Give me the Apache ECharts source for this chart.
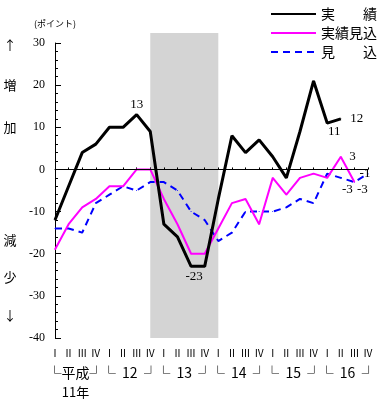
<!DOCTYPE html>
<html><head><meta charset="utf-8">
<script src="https://cdn.jsdelivr.net/npm/echarts@6/dist/echarts.min.js"></script>
<style>html,body{margin:0;padding:0;background:#fff}#c{width:386px;height:400px}</style>
</head><body><div id="c"></div>
<script>
// ---- data ----
const quarters = ['Ⅰ','Ⅱ','Ⅲ','Ⅳ','Ⅰ','Ⅱ','Ⅲ','Ⅳ','Ⅰ','Ⅱ','Ⅲ','Ⅳ','Ⅰ','Ⅱ','Ⅲ','Ⅳ','Ⅰ','Ⅱ','Ⅲ','Ⅳ','Ⅰ','Ⅱ','Ⅲ','Ⅳ'];
const yearLabels = ['└平成┘','└  12  ┘','└  13  ┘','└  14  ┘','└  15  ┘','└  16  ┘'];
const firstYearNote = '11年';
const seriesNames = ['実　　績','実績見込','見　　込'];
const jisseki       = [-12,-4,4,6,10,10,13,9,-13,-16,-23,-23,-7,8,4,7,3,-2,9,21,11,12,null,null];
const jissekiMikomi = [-19,-13,-9,-7,-4,-4,0,0,-7,-13,-20,-20,-14,-8,-7,-13,-2,-6,-2,-1,-2,3,-3,null];
const mikomi        = [-14,-14,-15,-8,-6,-4,-5,-3,-3,-5,-10,-12,-17,-15,-10,-10,-10,-9,-7,-8,-1,-2,-3,-1];
const yMin = -40, yMax = 30, yStep = 10;
const shadeFrom = 7, shadeTo = 12;   // category indices of shaded period
const sideWords = ['↑','増','加','減','少','↓'];
const unitLabel = '(ポイント)';

// ---- label placement (by index) ----
const numFont = '"Liberation Serif","DejaVu Serif",serif';
const cjkFont = '"Noto Sans CJK JP","Noto Sans",sans-serif';
const labelSpecs = [
  {6:{position:'top',distance:3}, 10:{position:'bottom',distance:3,offset:[3,0]}, 20:{position:'bottom',distance:2,offset:[7,0]}, 21:{position:'right',distance:9}},
  {21:{position:'right',distance:8}, 22:{position:'bottom',distance:1,offset:[-7,0]}},
  {22:{position:'bottom',distance:1,offset:[8,0]}, 23:{position:'inside',offset:[-3,0]}}
];
function buildData(values, spec){
  return values.map((v,i)=>{
    if (spec[i]) return {value:v, label:Object.assign({show:true, color:'#000', fontSize:13, fontFamily:numFont, formatter:'{c}'}, spec[i])};
    return v;
  });
}

const chart = echarts.init(document.getElementById('c'), null, {renderer:'canvas'});
const option = {
  animation:false,
  backgroundColor:'#fff',
  grid:{left:55, right:18, top:43, bottom:62, containLabel:false},
  legend:{
    orient:'vertical', right:4, top:2, itemWidth:45, itemHeight:12, itemGap:5,
    itemStyle:{opacity:0, borderWidth:0},
    textStyle:{fontSize:14, color:'#000', fontFamily:cjkFont, lineHeight:14},
    data:seriesNames
  },
  xAxis:{
    type:'category', data:quarters, boundaryGap:false,
    axisLine:{lineStyle:{color:'#000',width:1}},
    axisTick:{show:true, inside:true, length:2, lineStyle:{color:'#000'}},
    axisLabel:{color:'#000', fontSize:10, margin:10, interval:0, fontFamily:cjkFont},
    splitLine:{show:false}
  },
  yAxis:{
    type:'value', min:yMin, max:yMax, interval:yStep,
    axisLine:{show:true, lineStyle:{color:'#000',width:1}},
    axisTick:{show:true, inside:true, length:6, lineStyle:{color:'#000'}},
    minorTick:{show:true, splitNumber:5, length:3, lineStyle:{color:'#000'}},
    axisLabel:{color:'#000', fontSize:12, margin:10, fontFamily:numFont},
    splitLine:{show:false}
  },
  series:[
    {name:seriesNames[0], type:'line', data:buildData(jisseki,labelSpecs[0]), symbol:'circle', symbolSize:1, showSymbol:true, z:5,
     lineStyle:{color:'#000', width:3}, itemStyle:{color:'#000'},
     markLine:{silent:true, symbol:'none', label:{show:false}, lineStyle:{color:'#000',width:1,type:'solid'}, data:[{yAxis:0}]}},
    {name:seriesNames[1], type:'line', data:buildData(jissekiMikomi,labelSpecs[1]), symbol:'circle', symbolSize:1, showSymbol:true, z:4,
     lineStyle:{color:'#ff00ff', width:2}, itemStyle:{color:'#ff00ff'}},
    {name:seriesNames[2], type:'line', data:buildData(mikomi,labelSpecs[2]), symbol:'circle', symbolSize:1, showSymbol:true, z:3,
     lineStyle:{color:'#0000ff', width:2, type:[7,5]}, itemStyle:{color:'#0000ff'}}
  ]
};
chart.setOption(option);

// ---- graphic overlays positioned through the chart's scales ----
const px = i => chart.convertToPixel({xAxisIndex:0}, i);
const py = v => chart.convertToPixel({yAxisIndex:0}, v);
const g = [];
g.push({type:'rect', z:-10, silent:true,
  shape:{x:px(shadeFrom), y:py(yMax)-10, width:px(shadeTo)-px(shadeFrom), height:py(yMin)-py(yMax)+10},
  style:{fill:'#d4d4d4'}});
yearLabels.forEach((t,k)=>{
  const cx = (px(4*k+1)+px(4*k+2))/2;
  g.push({type:'text', x:cx, y:py(yMin)+35, style:{text:t, fill:'#000', font:'14px '+cjkFont, align:'center', verticalAlign:'middle'}});
});
g.push({type:'text', x:(px(0)+px(3))/2, y:py(yMin)+54, style:{text:firstYearNote, fill:'#000', font:'13px '+cjkFont, align:'center', verticalAlign:'middle'}});
g.push({type:'text', x:px(0), y:24, style:{text:unitLabel, fill:'#000', font:'9px '+cjkFont, align:'center', verticalAlign:'middle'}});
const sideY = [45,85,127,240,277,315];
sideWords.forEach((w,k)=>{
  g.push({type:'text', x:10, y:sideY[k], style:{text:w, fill:'#000', font:'13px '+cjkFont, align:'center', verticalAlign:'middle'}});
});
chart.setOption({graphic:g});
</script>
</body></html>
